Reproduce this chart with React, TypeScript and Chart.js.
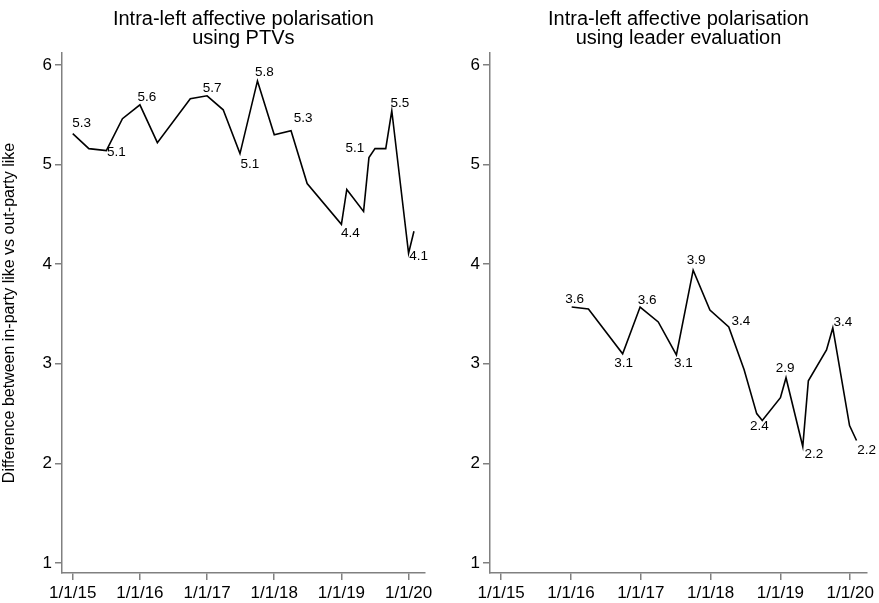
import { useEffect, useRef } from 'react';
import { Chart, registerables } from 'chart.js';

Chart.register(...registerables);

// ---- Data ----
const xTickYears = [2015, 2016, 2017, 2018, 2019, 2020];
const xTickLabels = ['1/1/15', '1/1/16', '1/1/17', '1/1/18', '1/1/19', '1/1/20'];
const yTicks = [1, 2, 3, 4, 5, 6];

const leftTitle = ['Intra-left affective polarisation', 'using PTVs'];
const rightTitle = ['Intra-left affective polarisation', 'using leader evaluation'];
const yAxisTitle = 'Difference between in-party like vs out-party like';

const leftYears = [
  2015.0, 2015.24, 2015.5, 2015.74, 2016.0, 2016.26, 2016.75, 2017.0, 2017.24, 2017.49,
  2017.75, 2018.0, 2018.25, 2018.49, 2019.0, 2019.08, 2019.33, 2019.41, 2019.5, 2019.66,
  2019.75, 2020.0, 2020.08,
];
const leftValues = [
  5.31, 5.16, 5.14, 5.46, 5.6, 5.22, 5.66, 5.69, 5.55, 5.11,
  5.84, 5.3, 5.34, 4.81, 4.4, 4.75, 4.53, 5.07, 5.16, 5.16,
  5.54, 4.11, 4.33,
];
const leftLabelIdx = [0, 2, 4, 7, 9, 10, 12, 14, 17, 20, 21];
const leftLabelOffsets = [
  [9, -10], [10, 2], [7, -8], [5, -8], [10, 11], [7, -9],
  [12, -12], [9, 9], [-14, -9], [8, -7], [10, 3],
];

const rightYears = [
  2016.01, 2016.25, 2016.74, 2016.99, 2017.25, 2017.51, 2017.75, 2017.99, 2018.26, 2018.48,
  2018.66, 2018.74, 2019.0, 2019.08, 2019.32, 2019.4, 2019.66, 2019.75, 2019.99, 2020.09,
];
const rightValues = [
  3.57, 3.55, 3.1, 3.57, 3.42, 3.09, 3.94, 3.54, 3.37, 2.94,
  2.5, 2.43, 2.66, 2.86, 2.17, 2.83, 3.14, 3.36, 2.38, 2.23,
];
const rightLabelIdx = [0, 2, 3, 5, 6, 8, 11, 13, 14, 17, 19];
const rightLabelOffsets = [
  [3, -8], [1, 9], [7, -7], [7, 8], [3, -10], [12, -6],
  [-3, 6], [-1, -9], [11, 8], [10, -6], [10, 10],
];

// ---- Styles ----
const FONT = '"Liberation Sans", Arial, Helvetica, sans-serif';
const AXIS = '#808080';

function makeLabelPlugin(values: number[], idx: number[], offsets: number[][]) {
  return {
    id: 'pointLabels',
    afterDatasetsDraw(chart: any) {
      const meta = chart.getDatasetMeta(0);
      const ctx = chart.ctx;
      ctx.save();
      ctx.font = `13.5px ${FONT}`;
      ctx.fillStyle = '#000';
      ctx.textAlign = 'center';
      ctx.textBaseline = 'middle';
      idx.forEach((i, k) => {
        const el = meta.data[i];
        if (!el) return;
        ctx.fillText(values[i].toFixed(1), el.x + offsets[k][0], el.y + offsets[k][1]);
      });
      ctx.restore();
    },
  };
}

function makeConfig(
  years: number[],
  values: number[],
  idx: number[],
  offsets: number[][],
  title: string[],
  yTitle: string | null,
  yAxisWidth: number,
  padRight: number
): any {
  return {
    type: 'line',
    data: {
      datasets: [
        {
          data: years.map((x, i) => ({ x, y: values[i] })),
          borderColor: '#000',
          borderWidth: 1.6,
          pointRadius: 0,
          pointHoverRadius: 0,
          tension: 0,
          fill: false,
        },
      ],
    },
    options: {
      responsive: false,
      animation: false,
      events: [],
      layout: { padding: { left: 0, right: padRight, top: 0, bottom: 0 } },
      plugins: {
        legend: { display: false },
        tooltip: { enabled: false },
        title: {
          display: true,
          text: title,
          fullSize: false,
          color: '#000',
          font: { family: FONT, size: 20, weight: 'normal', lineHeight: 0.95 },
          padding: { top: 10.3, bottom: 4.7 },
        },
      },
      scales: {
        x: {
          type: 'linear',
          min: 2014.84,
          max: 2020.24,
          afterBuildTicks: (s: any) => {
            s.ticks = xTickYears.map((v) => ({ value: v }));
          },
          afterFit: (s: any) => {
            s.height = 30;
            s.paddingLeft = 0;
            s.paddingRight = 0;
          },
          ticks: {
            callback: (_v: any, i: number) => xTickLabels[i],
            font: { family: FONT, size: 17 },
            color: '#000',
            padding: 3,
            maxRotation: 0,
            autoSkip: false,
          },
          grid: {
            display: true,
            drawOnChartArea: false,
            drawTicks: true,
            tickLength: 7,
            color: AXIS,
            lineWidth: 1.5,
          },
          border: { display: true, color: AXIS, width: 1.5 },
        },
        y: {
          type: 'linear',
          min: 0.9,
          max: 6.12,
          afterBuildTicks: (s: any) => {
            s.ticks = yTicks.map((v) => ({ value: v }));
          },
          afterFit: (s: any) => {
            s.width = yAxisWidth;
            s.paddingTop = 0;
            s.paddingBottom = 0;
          },
          ticks: {
            font: { family: FONT, size: 17 },
            color: '#000',
            padding: 3,
          },
          grid: {
            display: true,
            drawOnChartArea: false,
            drawTicks: true,
            tickLength: 7,
            color: AXIS,
            lineWidth: 1.5,
          },
          border: { display: true, color: AXIS, width: 1.5 },
          title: {
            display: !!yTitle,
            text: yTitle || '',
            color: '#000',
            font: { family: FONT, size: 16 },
            padding: { top: 0, bottom: 0 },
          },
        },
      },
    },
    plugins: [makeLabelPlugin(values, idx, offsets)],
  };
}

export default function App() {
  const leftRef = useRef<HTMLCanvasElement | null>(null);
  const rightRef = useRef<HTMLCanvasElement | null>(null);

  useEffect(() => {
    document.body.style.margin = '0';
    const charts: Chart[] = [];
    if (leftRef.current) {
      charts.push(
        new Chart(
          leftRef.current,
          makeConfig(leftYears, leftValues, leftLabelIdx, leftLabelOffsets, leftTitle, yAxisTitle, 62, 15.3)
        )
      );
    }
    if (rightRef.current) {
      charts.push(
        new Chart(
          rightRef.current,
          makeConfig(rightYears, rightValues, rightLabelIdx, rightLabelOffsets, rightTitle, null, 50, 12)
        )
      );
    }
    return () => charts.forEach((c) => c.destroy());
  }, []);

  return (
    <div style={{ position: 'relative', width: 879, height: 603, background: '#fff' }}>
      <canvas
        ref={leftRef}
        width={440}
        height={603}
        style={{ position: 'absolute', left: 0, top: 0, width: 440, height: 603 }}
      />
      <canvas
        ref={rightRef}
        width={439}
        height={603}
        style={{ position: 'absolute', left: 440, top: 0, width: 439, height: 603 }}
      />
    </div>
  );
}
